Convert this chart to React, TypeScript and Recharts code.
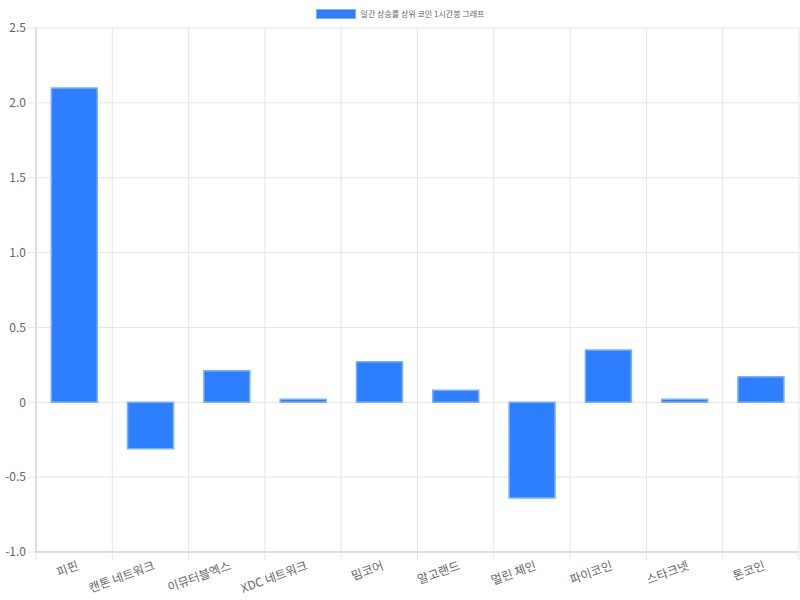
import React from 'react';
import { BarChart, Bar, XAxis, YAxis, CartesianGrid, Legend } from 'recharts';

const coins = ['피핀', '캔톤 네트워크', '이뮤터블엑스', 'XDC 네트워크', '밈코어', '알고랜드', '멀린 체인', '파이코인', '스타크넷', '톤코인'];
const changes = [2.1, -0.31, 0.21, 0.02, 0.27, 0.08, -0.64, 0.35, 0.02, 0.17];
const yTicks = [-1, -0.5, 0, 0.5, 1, 1.5, 2, 2.5];
const seriesName = '일간 상승률 상위 코인 1시간봉 그래프';

const data = coins.map((name, i) => ({ name, value: changes[i] }));

const W = 800;
const H = 600;
const Y_AXIS_W = 36;
const RIGHT = 1;
const PLOT_W = W - Y_AXIS_W - RIGHT;
const STEP = PLOT_W / coins.length;
const FONT = '"Noto Sans CJK KR", "Noto Sans", sans-serif';
const GRID = '#e5e5e5';
const AXIS = '#c9c9c9';
const BLUE = '#2e7fff';
const BLUE_EDGE = '#7db1ff';

const XTick = (props: any) => {
  const { x, y, payload, index } = props;
  const left = x - STEP / 2;
  return (
    <g>
      <line x1={left} y1={y} x2={left} y2={y + 8} stroke={GRID} />
      {index === coins.length - 1 && (
        <line x1={x + STEP / 2} y1={y} x2={x + STEP / 2} y2={y + 8} stroke={GRID} />
      )}
      <g transform={`translate(${x + 4},${y + 14}) rotate(-20)`}>
        <text textAnchor="end" dominantBaseline="middle" fill="#666" fontSize={12} fontFamily={FONT}>
          {payload.value}
        </text>
      </g>
    </g>
  );
};

const LegendContent = () => (
  <div style={{ display: 'flex', justifyContent: 'center', alignItems: 'center', fontFamily: FONT, fontSize: 8, color: '#666', height: 10, lineHeight: '10px' }}>
    <span style={{ display: 'inline-block', width: 38, height: 8, background: BLUE, border: `1px solid ${BLUE_EDGE}`, marginRight: 5 }} />
    <span>{seriesName}</span>
  </div>
);

const fmt = (v: number) => (v === 0 ? '0' : v.toFixed(1));

export default function App() {
  return (
    <div style={{ position: 'absolute', left: 0, top: 0, background: '#fff' }}>
      <BarChart width={W} height={H} data={data} margin={{ top: 18, right: RIGHT, left: 0, bottom: 0 }} barCategoryGap="20%">
        <CartesianGrid
          stroke={GRID}
          verticalCoordinatesGenerator={({ offset }: any) =>
            coins.map((_, i) => offset.left + (i * offset.width) / coins.length).concat(offset.left + offset.width)
          }
        />
        <XAxis
          dataKey="name"
          height={48}
          interval={0}
          tickLine={false}
          tickSize={0}
          tickMargin={0}
          axisLine={{ stroke: AXIS }}
          tick={<XTick />}
        />
        <YAxis
          width={Y_AXIS_W}
          domain={[-1, 2.5]}
          ticks={yTicks}
          tickFormatter={fmt}
          tickSize={8}
          tickMargin={2}
          tickLine={{ stroke: GRID }}
          axisLine={{ stroke: AXIS }}
          tick={{ fill: '#666', fontSize: 12, fontFamily: FONT }}
          interval={0}
        />
        <Legend
          layout="vertical"
          verticalAlign="top"
          align="center"
          wrapperStyle={{ top: 9, left: 0, width: W }}
          content={<LegendContent />}
        />
        <Bar dataKey="value" name={seriesName} fill={BLUE} stroke={BLUE_EDGE} strokeWidth={1.5} isAnimationActive={false} />
      </BarChart>
    </div>
  );
}
